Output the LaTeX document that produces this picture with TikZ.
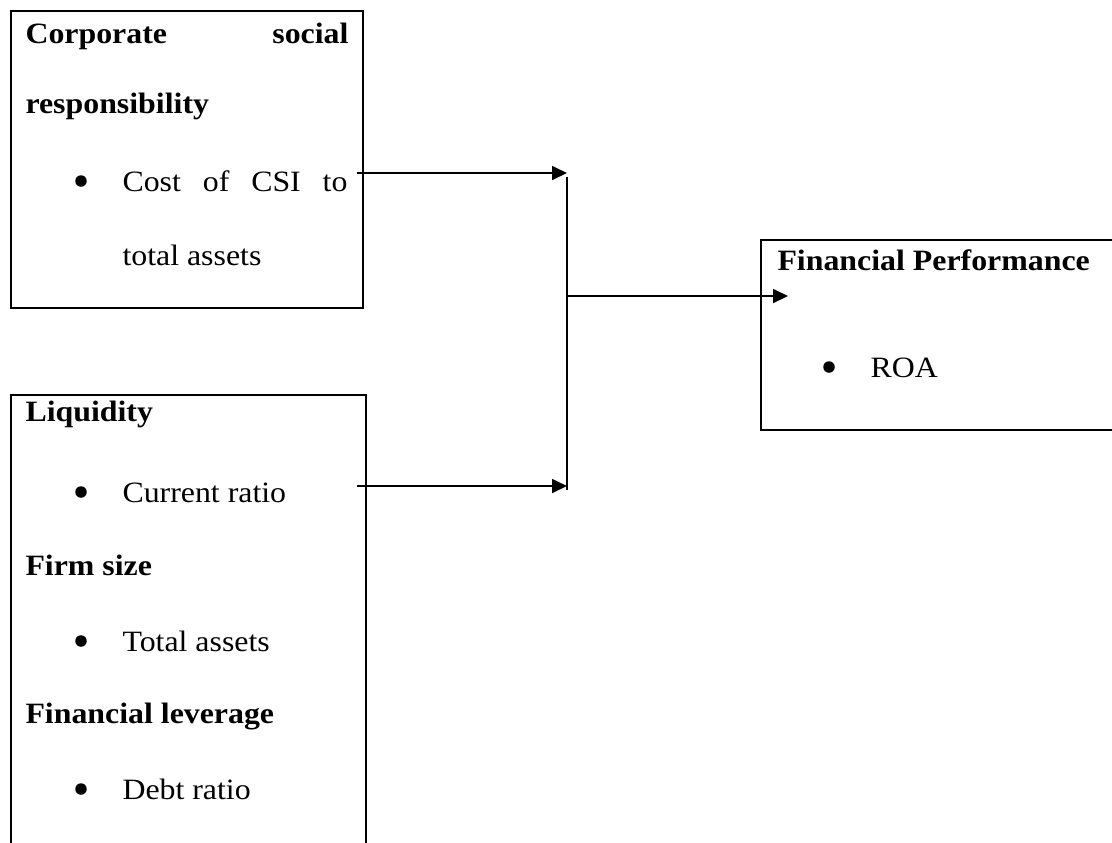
\documentclass[tikz,border=0pt]{standalone}
\usepackage{fontspec}
\setmainfont{Liberation Serif}[FakeStretch=1.08]
\usetikzlibrary{arrows.meta}

\begin{document}
\begin{tikzpicture}[x=0.4pt,y=-0.4pt,
        txt/.style={anchor=base west,inner sep=0pt,font=\fontsize{11.8}{14}\selectfont},
        head/.style={txt,font=\fontsize{11.8}{14}\selectfont\bfseries},
        dot/.style={circle,fill,inner sep=0pt,minimum size=4.6pt},
        frame/.style={line width=1pt},
        link/.style={line width=0.7pt,-{Triangle[length=6pt,width=5.6pt]}}]
        \useasboundingbox (0,0) rectangle (1112,842);
        \clip (0,0) rectangle (1112,842);
        % boxes
        \draw[frame] (11,11) rectangle (363,308);
        \draw[frame] (11,395) rectangle (366,880);
        \draw[frame] (761,240) rectangle (1150,430);
        % corporate social responsibility
        \node[head] (CSR) at (25,43) {\makebox[129.2pt][s]{Corporate social}};
        \node[head] (CSR2) at (25,113) {responsibility};
        \node[dot] (d1) at (81,181) {};
        \node[txt] (CSI) at (122,191) {\makebox[90pt][s]{Cost of CSI to}};
        \node[txt] (CSI2) at (122,265) {total assets};
        % control variables
        \node[head] (LIQ) at (25,421) {Liquidity};
        \node[dot] (d2) at (81,492) {};
        \node[txt] (CR) at (122,502) {Current ratio};
        \node[head] (FS) at (25,575) {Firm size};
        \node[dot] (d3) at (81,641) {};
        \node[txt] (TA) at (122,651) {Total assets};
        \node[head] (FL) at (25,723) {Financial leverage};
        \node[dot] (d4) at (81,789) {};
        \node[txt] (DR) at (122,799) {Debt ratio};
        % financial performance
        \node[head] (FP) at (777,270) {Financial Performance};
        \node[dot] (d5) at (829,367) {};
        \node[txt] (ROA) at (870,377) {ROA};
        % connectors
        \coordinate (A) at (357,173);
        \coordinate (B) at (357,486);
        \coordinate (A') at (567,173);
        \coordinate (B') at (567,486);
        \coordinate (T) at (567,177);
        \coordinate (U) at (567,490);
        \coordinate (M) at (567,296);
        \coordinate (P) at (788,296);
        \draw[link] (A) -- (A');
        \draw[link] (B) -- (B');
        \draw[line width=0.7pt] (T) -- (U);
        \draw[link] (M) -- (P);
    \end{tikzpicture}
\end{document}
